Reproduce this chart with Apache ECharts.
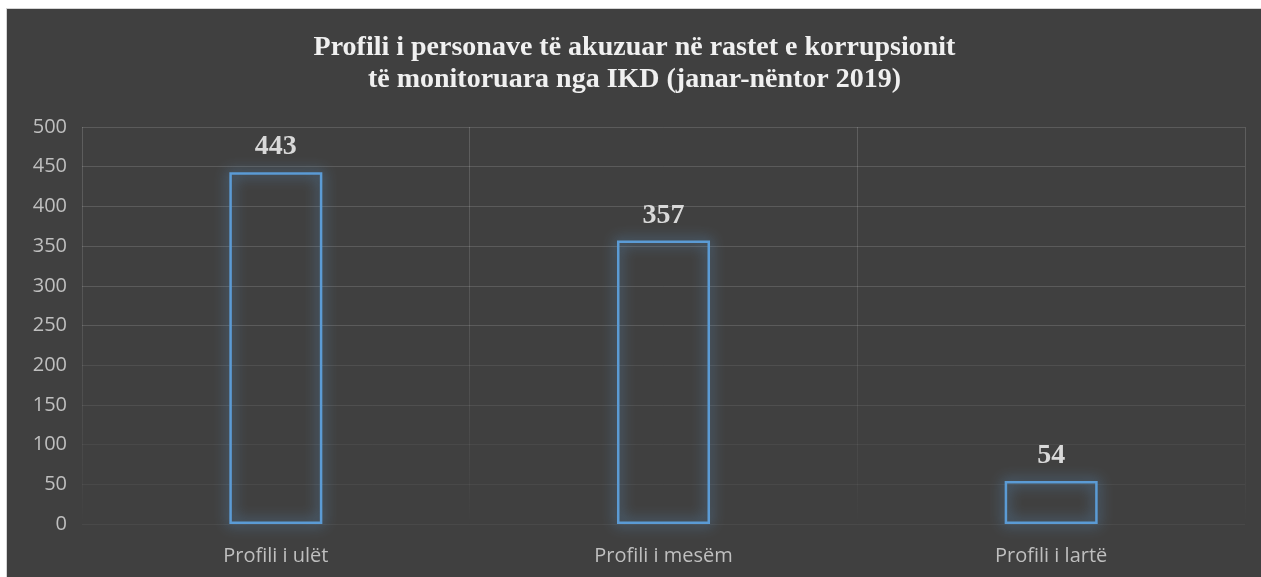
<!DOCTYPE html>
<html>
<head>
<meta charset="utf-8">
<script src="https://cdn.jsdelivr.net/npm/echarts@6/dist/echarts.min.js"></script>
<style>
html,body{margin:0;padding:0;background:#fff;width:1261px;height:577px;overflow:hidden;}
#wrap{position:absolute;left:6px;top:8px;width:1255px;height:569px;border-left:1px solid #d4d4d4;border-top:1px solid #d4d4d4;background:#404040;}
#chart{position:absolute;left:0;top:0;width:1255px;height:569px;}
</style>
</head>
<body>
<div id="wrap"><div id="chart"></div></div>
<script>
const titleLines = ["Profili i personave të akuzuar në rastet e korrupsionit", "të monitoruara nga IKD (janar-nëntor 2019)"];
const categories = ["Profili i ulët", "Profili i mesëm", "Profili i lartë"];
const values = [443, 357, 54];
const yMin = 0, yMax = 500, yStep = 50;

const chart = echarts.init(document.getElementById('chart'), null, {renderer: 'canvas'});
const hColors = [];
for (let i = 0; i <= 10; i++) {
  const a = i <= 2 ? 0.05 : (i <= 4 ? 0.08 : 0.14);
  hColors.push('rgba(255,255,255,' + a + ')');
}
chart.setOption({
  backgroundColor: 'transparent',
  animation: false,
  title: {
    text: titleLines.join('\n'),
    left: 'center',
    top: 18,
    textStyle: {
      fontFamily: 'Liberation Serif',
      fontWeight: 'bold',
      fontSize: 28,
      lineHeight: 32,
      color: '#f0f0f0'
    }
  },
  grid: {left: 75, right: 17, top: 118, bottom: 54, containLabel: false},
  xAxis: {
    type: 'category',
    data: categories,
    axisLine: {show: false},
    axisTick: {show: false},
    axisLabel: {fontFamily: 'Open Sans', fontSize: 20, color: '#bfbfbf', margin: 22},
    splitLine: {
      show: true,
      lineStyle: {
        width: 1,
        color: new echarts.graphic.LinearGradient(0, 0, 0, 1, [
          {offset: 0, color: 'rgba(255,255,255,0.16)'},
          {offset: 0.55, color: 'rgba(255,255,255,0.10)'},
          {offset: 0.9, color: 'rgba(255,255,255,0.03)'},
          {offset: 1, color: 'rgba(255,255,255,0.0)'}
        ])
      }
    }
  },
  yAxis: {
    type: 'value',
    min: yMin, max: yMax, interval: yStep,
    axisLine: {show: false},
    axisTick: {show: false},
    axisLabel: {fontFamily: 'Open Sans', fontSize: 20, color: '#bfbfbf', margin: 15},
    splitLine: {show: true, lineStyle: {width: 1, color: hColors}}
  },
  series: [{
    type: 'bar',
    data: values,
    barWidth: 93,
    itemStyle: {
      color: 'rgba(0,0,0,0)',
      borderColor: '#5b9bd5',
      borderWidth: 2.5,
      shadowColor: 'rgba(91,155,213,1)',
      shadowBlur: 14
    },
    label: {
      show: true,
      position: 'top',
      distance: 11,
      fontFamily: 'Liberation Serif',
      fontWeight: 'bold',
      fontSize: 28,
      color: '#d9d9d9'
    }
  }]
});
</script>
</body>
</html>
